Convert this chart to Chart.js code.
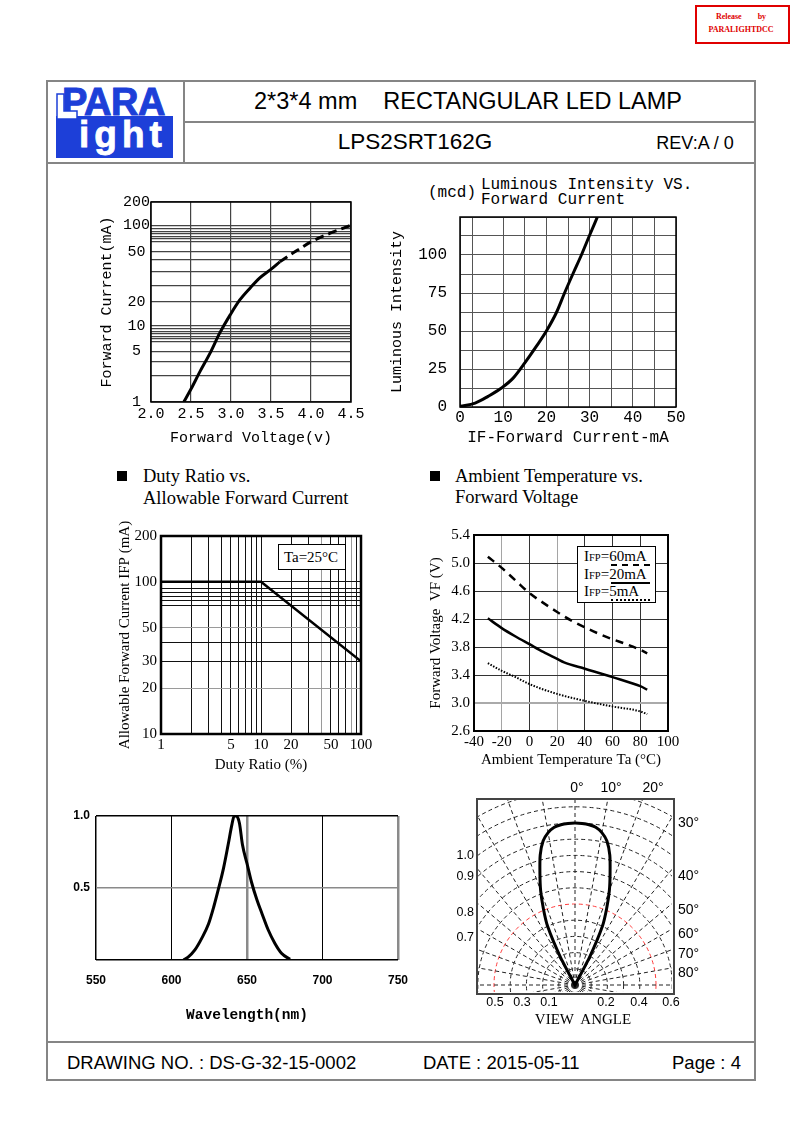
<!DOCTYPE html>
<html lang="en">
<head>
<meta charset="utf-8">
<title>LPS2SRT162G</title>
<script src="https://cdn.jsdelivr.net/npm/chart.js@4.4.1/dist/chart.umd.min.js"></script>
<style>
html,body{margin:0;padding:0;background:#fff;}
body{width:793px;height:1123px;position:relative;overflow:hidden;font-family:"Liberation Sans",Arial,sans-serif;color:#000;}
.t{position:absolute;white-space:pre;line-height:1;transform:translateY(-50%);}
.c{transform:translate(-50%,-50%);}
.r{transform:translate(-100%,-50%);}
.serif{font-family:"Liberation Serif","Times New Roman",serif;}
.mono{font-family:"Liberation Mono","Courier New",monospace;}
.ln{position:absolute;background:#858585;}
.sq{position:absolute;width:10px;height:10px;background:#000;}
canvas{position:absolute;display:block;}
</style>
</head>
<body>
<!-- release stamp -->
<div style="position:absolute;left:695px;top:5px;width:91px;height:35px;border:2px solid #e00000;"></div>
<div class="t serif c" style="left:741px;top:17px;font-size:8px;color:#e00000;font-weight:bold;">Release        by</div>
<div class="t serif c" style="left:741px;top:30px;font-size:8px;color:#e00000;font-weight:bold;">PARALIGHTDCC</div>

<!-- page frame -->
<div class="ln" style="left:46px;top:80px;width:710px;height:2px;"></div>
<div class="ln" style="left:46px;top:1079px;width:710px;height:2px;"></div>
<div class="ln" style="left:46px;top:80px;width:2px;height:1001px;"></div>
<div class="ln" style="left:754px;top:80px;width:2px;height:1001px;"></div>
<div class="ln" style="left:183px;top:80px;width:2px;height:84px;"></div>
<div class="ln" style="left:183px;top:121px;width:573px;height:2px;"></div>
<div class="ln" style="left:46px;top:162px;width:710px;height:2px;"></div>
<div class="ln" style="left:46px;top:1041px;width:710px;height:2px;"></div>

<!-- logo -->
<div style="position:absolute;left:56px;top:116px;width:117px;height:42px;background:#1d3fd8;"></div>
<div style="position:absolute;left:62px;top:83px;font-size:38px;line-height:1;font-weight:bold;color:#1d3fd8;letter-spacing:-0.5px;-webkit-text-stroke:1px #1d3fd8;">PARA</div>
<svg style="position:absolute;left:0;top:0;" width="200" height="170"><polygon points="57,94 64,94 64,111 77,111 77,119 57,119" fill="#fff" stroke="#1d3fd8" stroke-width="1.5"/></svg>
<div style="position:absolute;left:79px;top:116px;font-size:37px;line-height:1;font-weight:bold;color:#fff;letter-spacing:5px;-webkit-text-stroke:0.8px #fff;">ight</div>

<!-- header texts -->
<div class="t c" style="left:468px;top:102px;font-size:23.5px;">2*3*4 mm    RECTANGULAR LED LAMP</div>
<div class="t c" style="left:415px;top:142px;font-size:22.5px;">LPS2SRT162G</div>
<div class="t c" style="left:695px;top:143px;font-size:18px;">REV:A / 0</div>

<!-- footer texts -->
<div class="t" style="left:67px;top:1063px;font-size:18.5px;">DRAWING NO. : DS-G-32-15-0002</div>
<div class="t" style="left:423px;top:1063px;font-size:18.5px;">DATE : 2015-05-11</div>
<div class="t" style="left:672px;top:1063px;font-size:18.5px;">Page : 4</div>

<!-- chart 2 heading -->
<div class="t mono" style="left:428px;top:193px;font-size:16px;">(mcd)</div>
<div class="t mono" style="left:481px;top:185px;font-size:16px;">Luminous Intensity VS.</div>
<div class="t mono" style="left:481px;top:200px;font-size:16px;">Forward Current</div>

<!-- section headings -->
<div class="sq" style="left:117px;top:471px;"></div>
<div class="t serif" style="left:143px;top:476px;font-size:18.5px;">Duty Ratio vs.</div>
<div class="t serif" style="left:143px;top:498px;font-size:18.5px;">Allowable Forward Current</div>
<div class="sq" style="left:430px;top:471px;"></div>
<div class="t serif" style="left:455px;top:476px;font-size:18.5px;">Ambient Temperature vs.</div>
<div class="t serif" style="left:455px;top:497px;font-size:18.5px;">Forward Voltage</div>

<canvas id="fv"></canvas>
<canvas id="liv"></canvas>
<canvas id="duty"></canvas>
<canvas id="temp"></canvas>
<canvas id="spec"></canvas>

<!-- Ta box (chart 3) -->
<div style="position:absolute;left:278px;top:544px;width:66px;height:24px;border:1px solid #000;background:#fff;"></div>
<div class="t serif c" style="left:311px;top:557px;font-size:15px;">Ta=25°C</div>

<!-- legend box (chart 4) -->
<div style="position:absolute;left:577px;top:546px;width:77px;height:55px;border:1px solid #000;background:#fff;"></div>
<div class="t serif" style="left:584px;top:556px;font-size:15px;">I<span style="font-size:10.5px;">FP</span>=60mA</div>
<div style="position:absolute;left:611px;top:564px;width:39px;height:0;border-top:2px dashed #000;"></div>
<div class="t serif" style="left:584px;top:574px;font-size:15px;">I<span style="font-size:10.5px;">FP</span>=20mA</div>
<div style="position:absolute;left:611px;top:582px;width:39px;height:2px;background:#000;"></div>
<div class="t serif" style="left:584px;top:591px;font-size:15px;">I<span style="font-size:10.5px;">FP</span>=5mA</div>
<div style="position:absolute;left:611px;top:599px;width:39px;height:0;border-top:2px dotted #000;"></div>

<!-- polar chart -->
<div style="position:absolute;left:477px;top:799px;width:195px;height:193px;overflow:hidden;">
  <canvas id="polar" style="left:-122px;top:-34px;"></canvas>
</div>
<div style="position:absolute;left:476px;top:798px;width:195px;height:193px;border:2px solid #444;"></div>
<div class="t c" style="left:577px;top:787px;font-size:14px;">0°</div>
<div class="t c" style="left:611px;top:787px;font-size:14px;">10°</div>
<div class="t c" style="left:653px;top:787px;font-size:14px;">20°</div>
<div class="t" style="left:678px;top:822px;font-size:14px;">30°</div>
<div class="t" style="left:678px;top:875px;font-size:14px;">40°</div>
<div class="t" style="left:678px;top:909px;font-size:14px;">50°</div>
<div class="t" style="left:678px;top:933px;font-size:14px;">60°</div>
<div class="t" style="left:678px;top:953px;font-size:14px;">70°</div>
<div class="t" style="left:678px;top:972px;font-size:14px;">80°</div>
<div class="t r" style="left:474px;top:855px;font-size:12.5px;">1.0</div>
<div class="t r" style="left:474px;top:876px;font-size:12.5px;">0.9</div>
<div class="t r" style="left:474px;top:912px;font-size:12.5px;">0.8</div>
<div class="t r" style="left:474px;top:937px;font-size:12.5px;">0.7</div>
<div class="t c" style="left:495px;top:1002px;font-size:12.5px;">0.5</div>
<div class="t c" style="left:522px;top:1002px;font-size:12.5px;">0.3</div>
<div class="t c" style="left:549px;top:1002px;font-size:12.5px;">0.1</div>
<div class="t c" style="left:606px;top:1002px;font-size:12.5px;">0.2</div>
<div class="t c" style="left:639px;top:1002px;font-size:12.5px;">0.4</div>
<div class="t c" style="left:671px;top:1002px;font-size:12.5px;">0.6</div>
<div class="t serif c" style="left:583px;top:1019px;font-size:15px;">VIEW  ANGLE</div>

<script>
// ================= DATA =================
// Chart 1: Forward current vs forward voltage
const fvVoltSolid = [2.41, 2.50, 2.61, 2.74, 2.86, 2.99, 3.11, 3.24, 3.36, 3.49, 3.61];
const fvCurrSolid = [1, 1.51, 2.61, 4.78, 8.24, 13.7, 20.7, 25.8, 31.0, 35.9, 41.6];
const fvVoltDash = [3.61, 3.74, 3.86, 4.00, 4.24, 4.50];
const fvCurrDash = [41.6, 47.3, 54.1, 64.9, 81.2, 100];
const fvVoltTicks = [2.0, 2.5, 3.0, 3.5, 4.0, 4.5];
const fvCurrTickLabels = [1, 5, 10, 20, 50, 100, 200];
const fvCurrGridValues = [1, 2.3, 3.6, 5, 6.5, 7, 7.5, 8, 8.5, 9.2, 10, 20, 27, 35, 43, 50, 65, 70, 75, 80, 85, 92, 100, 200];

// Chart 2: Luminous intensity vs forward current
const livCurrent = [0, 3.5, 6.5, 9.6, 12.3, 15, 17.7, 20, 22.3, 24.2, 26.2, 28.1, 30, 31.8];
const livIntensity = [0.4, 2.6, 7, 12.5, 19, 29, 40, 50, 62, 75, 88, 100, 113, 125];
const livCurrentGrid = [0, 3, 10, 15, 20, 25, 30, 35, 40, 45, 50];
const livCurrentTickLabels = [0, 10, 20, 30, 40, 50];
const livIntensityGrid = [0, 12.5, 25, 37.5, 50, 62.5, 75, 87.5, 100, 112.5, 125];
const livIntensityTickLabels = [0, 25, 50, 75, 100];

// Chart 3: Duty ratio vs allowable forward current
const dutyRatio = [1, 10, 100];
const dutyCurrent = [100, 100, 30];
const dutyRatioGrid = [1, 2, 3, 4, 5, 6, 7, 8, 9, 10, 20, 30, 40, 50, 60, 70, 80, 90, 100];
const dutyRatioTickLabels = [1, 5, 10, 20, 50, 100];
const dutyCurrentGrid = [10, 20, 30, 40, 50, 70, 75, 80, 85, 90, 100, 200];
const dutyCurrentTickLabels = [10, 20, 30, 50, 100, 200];

// Chart 4: Ambient temperature vs forward voltage
const tempC60 = [-30, -20, -10, 0, 10, 20, 30, 40, 50, 60, 70, 80, 85];
const vf60 = [5.09, 4.93, 4.75, 4.57, 4.43, 4.30, 4.18, 4.08, 3.99, 3.91, 3.84, 3.76, 3.71];
const tempC20 = [-30, -20, -10, 0, 10, 20, 25, 40, 60, 80, 85];
const vf20 = [4.21, 4.07, 3.95, 3.84, 3.73, 3.63, 3.58, 3.49, 3.37, 3.24, 3.19];
const tempC5 = [-30, -20, -10, 0, 20, 40, 60, 80, 85];
const vf5 = [3.57, 3.46, 3.37, 3.27, 3.13, 3.03, 2.95, 2.88, 2.84];
const tempTicks = [-40, -20, 0, 20, 40, 60, 80, 100];
const vfTicks = [2.6, 3.0, 3.4, 3.8, 4.2, 4.6, 5.0, 5.4];

// Chart 5: Spectrum
const wavelengthNm = [608, 611, 615.5, 620, 624.5, 628, 631, 634.5, 637.5, 640, 641.5, 643, 645, 647, 650, 653, 656.5, 660, 664, 668.5, 673, 678.5];
const specIntensity = [0, 0.02, 0.07, 0.15, 0.25, 0.37, 0.49, 0.64, 0.8, 0.94, 1.0, 1.0, 0.95, 0.8, 0.67, 0.54, 0.42, 0.32, 0.21, 0.115, 0.045, 0.005];
const wavelengthTicks = [550, 600, 650, 700, 750];
const specTicks = [0, 0.5, 1.0];
const specTickLabels = [0.5, 1.0];

// Chart 6: Radiation pattern (view angle)
const viewAngleDeg = [0, 2.5, 5, 7.5, 10, 12.5, 15, 17.5, 20, 22.5, 25, 27.5, 30];
const viewRelIntensity = [1.0, 0.998, 0.993, 0.982, 0.955, 0.91, 0.83, 0.72, 0.62, 0.51, 0.40, 0.20, 0];
const polarRingValues = [0, 0.1, 0.2, 0.3, 0.4, 0.5, 0.6, 0.7, 0.8, 0.9, 1.0, 1.1, 1.2, 1.3];

// ================= LAYOUT =================
const MONO = "'Liberation Mono','Courier New',monospace";
const SERIF = "'Liberation Serif','Times New Roman',serif";
const SANS = "'Liberation Sans',Arial,sans-serif";
const fvCurrAxisAnchors = [[1, 0], [5, 0.2524], [10, 0.3816], [20, 0.5008], [50, 0.7511], [100, 0.8838], [200, 1]];

Chart.defaults.animation = false;
Chart.defaults.responsive = false;
Chart.defaults.devicePixelRatio = 1;
Chart.defaults.events = [];
Chart.defaults.color = '#000';
Chart.defaults.plugins.legend.display = false;
Chart.defaults.plugins.tooltip.enabled = false;

class PiecewiseLogScale extends Chart.LogarithmicScale {
  getPixelForValue(value) {
    const a = fvCurrAxisAnchors;
    if (value === null || value === undefined || isNaN(value) || value <= 0) return NaN;
    const lv = Math.log10(value);
    let i = 0;
    while (i < a.length - 2 && lv > Math.log10(a[i + 1][0])) i++;
    const l0 = Math.log10(a[i][0]), l1 = Math.log10(a[i + 1][0]);
    const f = a[i][1] + (lv - l0) / (l1 - l0) * (a[i + 1][1] - a[i][1]);
    return this.getPixelForDecimal(f);
  }
}
PiecewiseLogScale.id = 'piecewiseLog';
PiecewiseLogScale.defaults = Chart.LogarithmicScale.defaults;
Chart.register(PiecewiseLogScale);

const framePlugin = {
  id: 'frame',
  beforeDatasetsDraw(chart, args, o) {
    if (!o || !o.width) return;
    const {ctx, chartArea: a} = chart;
    ctx.save();
    ctx.strokeStyle = o.color || '#000';
    ctx.lineWidth = o.width;
    ctx.strokeRect(a.left, a.top, a.right - a.left, a.bottom - a.top);
    ctx.restore();
  }
};
Chart.register(framePlugin);

function place(id, c) {
  const cv = document.getElementById(id);
  cv.width = c.w; cv.height = c.h;
  cv.style.width = c.w + 'px'; cv.style.height = c.h + 'px';
  if (c.x !== undefined) { cv.style.left = c.x + 'px'; cv.style.top = c.y + 'px'; }
  return cv;
}
function layoutPad(c, p) { return {left: 0, top: p.top - c.y, right: c.x + c.w - p.right, bottom: 0}; }
function fitY(c, p) { return s => { s.width = p.left - c.x; s.paddingTop = 0; s.paddingBottom = 0; }; }
function fitX(c, p) { return s => { s.height = c.y + c.h - p.bottom; s.paddingLeft = 0; s.paddingRight = 0; }; }
function setTicks(vals) { return s => { s.ticks = vals.map(v => ({value: v})); }; }
function pts(xs, ys) { return xs.map((x, i) => ({x: x, y: ys[i]})); }
function labelIf(list, fmt) { return v => list.some(l => Math.abs(l - v) < 1e-9) ? (fmt ? fmt(v) : String(v)) : ''; }

// ---------- Chart 1 ----------
const c1 = {x: 95, y: 195, w: 275, h: 255}, p1 = {left: 151, top: 202, right: 351, bottom: 402};
new Chart(place('fv', c1), {
  type: 'line',
  data: {datasets: [
    {data: pts(fvVoltSolid, fvCurrSolid), borderColor: '#000', borderWidth: 3, pointRadius: 0, cubicInterpolationMode: 'monotone'},
    {data: pts(fvVoltDash, fvCurrDash), borderColor: '#000', borderWidth: 3, borderDash: [9, 5], pointRadius: 0, cubicInterpolationMode: 'monotone'}
  ]},
  options: {
    layout: {padding: layoutPad(c1, p1)},
    plugins: {frame: {color: '#000', width: 1.5}},
    scales: {
      x: {type: 'linear', min: 2, max: 4.5, afterBuildTicks: setTicks(fvVoltTicks), afterFit: fitX(c1, p1),
        grid: {color: '#444', lineWidth: 1.2, drawTicks: false}, border: {display: false},
        ticks: {padding: 3, autoSkip: false, maxRotation: 0, font: {family: MONO, size: 15}, callback: v => v.toFixed(1)},
        title: {display: true, text: 'Forward Voltage(v)', font: {family: MONO, size: 15}, padding: {top: 0, bottom: 3}}},
      y: {type: 'piecewiseLog', min: 1, max: 200, afterBuildTicks: setTicks(fvCurrGridValues), afterFit: fitY(c1, p1),
        grid: {color: '#444', lineWidth: 1.2, drawTicks: false}, border: {display: false},
        ticks: {padding: 1, autoSkip: false, crossAlign: 'center', font: {family: MONO, size: 15}, callback: labelIf(fvCurrTickLabels)},
        title: {display: true, text: 'Forward Current(mA)', font: {family: MONO, size: 15}, padding: {top: 3, bottom: 0}}}
    }
  }
});

// ---------- Chart 2 ----------
const c2 = {x: 385, y: 208, w: 310, h: 242}, p2 = {left: 460, top: 217, right: 676, bottom: 407};
new Chart(place('liv', c2), {
  type: 'line',
  data: {datasets: [
    {data: pts(livCurrent, livIntensity), borderColor: '#000', borderWidth: 3, pointRadius: 0, cubicInterpolationMode: 'monotone'}
  ]},
  options: {
    layout: {padding: layoutPad(c2, p2)},
    plugins: {frame: {color: '#000', width: 1.5}},
    scales: {
      x: {type: 'linear', min: 0, max: 50, afterBuildTicks: setTicks(livCurrentGrid), afterFit: fitX(c2, p2),
        grid: {color: '#555', lineWidth: 1, drawTicks: false}, border: {display: false},
        ticks: {padding: 1, autoSkip: false, maxRotation: 0, font: {family: MONO, size: 16}, callback: labelIf(livCurrentTickLabels)},
        title: {display: true, text: 'IF-Forward Current-mA', font: {family: MONO, size: 16}, padding: {top: 0, bottom: 3}}},
      y: {type: 'linear', min: 0, max: 125, afterBuildTicks: setTicks(livIntensityGrid), afterFit: fitY(c2, p2),
        grid: {color: '#555', lineWidth: 1, drawTicks: false}, border: {display: false},
        ticks: {padding: 13, autoSkip: false, font: {family: MONO, size: 16}, callback: labelIf(livIntensityTickLabels)},
        title: {display: true, text: 'Luminous Intensity', font: {family: MONO, size: 15}, padding: {top: 3, bottom: 0}}}
    }
  }
});

// ---------- Chart 3 ----------
const c3 = {x: 110, y: 508, w: 270, h: 267}, p3 = {left: 161, top: 536, right: 361, bottom: 734};
new Chart(place('duty', c3), {
  type: 'line',
  data: {datasets: [
    {data: pts(dutyRatio, dutyCurrent), borderColor: '#000', borderWidth: 2.5, pointRadius: 0, tension: 0}
  ]},
  options: {
    layout: {padding: layoutPad(c3, p3)},
    plugins: {frame: {color: '#000', width: 2.5}},
    scales: {
      x: {type: 'logarithmic', min: 1, max: 100, afterBuildTicks: setTicks(dutyRatioGrid), afterFit: fitX(c3, p3),
        grid: {color: c => (c.tick && (c.tick.value === 40 || c.tick.value === 80)) ? '#9a9a9a' : '#111', lineWidth: 1, drawTicks: false}, border: {display: false},
        ticks: {padding: 2, autoSkip: false, maxRotation: 0, font: {family: SERIF, size: 15}, callback: labelIf(dutyRatioTickLabels)},
        title: {display: true, text: 'Duty Ratio (%)', font: {family: SERIF, size: 15}, padding: {top: 0, bottom: 1}}},
      y: {type: 'logarithmic', min: 10, max: 200, afterBuildTicks: setTicks(dutyCurrentGrid), afterFit: fitY(c3, p3),
        grid: {color: c => (c.tick && (c.tick.value === 20 || c.tick.value === 50)) ? '#9a9a9a' : '#111', lineWidth: 1, drawTicks: false}, border: {display: false},
        ticks: {padding: 4, autoSkip: false, font: {family: SERIF, size: 15}, callback: labelIf(dutyCurrentTickLabels)},
        title: {display: true, text: 'Allowable Forward Current IFP (mA)', font: {family: SERIF, size: 15}, padding: {top: 6, bottom: 0}}}
    }
  }
});

// ---------- Chart 4 ----------
const c4 = {x: 425, y: 520, w: 265, h: 255}, p4 = {left: 474, top: 535, right: 668, bottom: 731};
new Chart(place('temp', c4), {
  type: 'line',
  data: {datasets: [
    {label: 'IFP=60mA', data: pts(tempC60, vf60), borderColor: '#000', borderWidth: 2.5, borderDash: [8, 6], pointRadius: 0, cubicInterpolationMode: 'monotone'},
    {label: 'IFP=20mA', data: pts(tempC20, vf20), borderColor: '#000', borderWidth: 2.5, pointRadius: 0, cubicInterpolationMode: 'monotone'},
    {label: 'IFP=5mA', data: pts(tempC5, vf5), borderColor: '#000', borderWidth: 2, borderDash: [1.5, 1.5], pointRadius: 0, cubicInterpolationMode: 'monotone'}
  ]},
  options: {
    layout: {padding: layoutPad(c4, p4)},
    plugins: {frame: {color: '#000', width: 2}},
    scales: {
      x: {type: 'linear', min: -40, max: 100, afterBuildTicks: setTicks(tempTicks), afterFit: fitX(c4, p4),
        grid: {color: c => (c.tick && (c.tick.value === -20 || c.tick.value === 20)) ? '#a5a5a5' : '#333', lineWidth: 1, drawTicks: false}, border: {display: false},
        ticks: {padding: 2, autoSkip: false, maxRotation: 0, font: {family: SERIF, size: 15}},
        title: {display: true, text: 'Ambient Temperature Ta (°C)', font: {family: SERIF, size: 15}, padding: {top: 0, bottom: 6}}},
      y: {type: 'linear', min: 2.6, max: 5.4, afterBuildTicks: setTicks(vfTicks), afterFit: fitY(c4, p4),
        grid: {color: c => (c.tick && Math.abs(c.tick.value - 3.0) < 1e-9) ? '#aaa' : '#333', lineWidth: c => (c.tick && Math.abs(c.tick.value - 3.0) < 1e-9) ? 2 : 1, drawTicks: false}, border: {display: false},
        ticks: {padding: 4, autoSkip: false, font: {family: SERIF, size: 15}, callback: v => v.toFixed(1)},
        title: {display: true, text: 'Forward Voltage  VF (V)', font: {family: SERIF, size: 15}, padding: {top: 2, bottom: 0}}}
    }
  }
});

// ---------- Chart 5: spectrum ----------
const c5 = {x: 55, y: 805, w: 365, h: 225}, p5 = {left: 96, top: 816, right: 398, bottom: 960};
new Chart(place('spec', c5), {
  type: 'line',
  data: {datasets: [
    {data: pts(wavelengthNm, specIntensity), borderColor: '#000', borderWidth: 3, pointRadius: 0, cubicInterpolationMode: 'monotone'}
  ]},
  options: {
    layout: {padding: layoutPad(c5, p5)},
    scales: {
      x: {type: 'linear', min: 550, max: 750, afterBuildTicks: setTicks(wavelengthTicks), afterFit: fitX(c5, p5),
        grid: {color: c => (c.tick && (c.tick.value === 650 || c.tick.value === 750)) ? '#8a8a8a' : '#000',
               lineWidth: c => (c.tick && (c.tick.value === 650 || c.tick.value === 750)) ? 2.5 : (c.tick && c.tick.value === 550 ? 1.5 : 1), drawTicks: false},
        border: {display: false},
        ticks: {padding: 13, autoSkip: false, maxRotation: 0, font: {family: SANS, size: 12, weight: 'bold'}},
        title: {display: true, text: 'Wavelength(nm)', font: {family: MONO, size: 14.5, weight: 'bold'}, padding: {top: 0, bottom: 6}}},
      y: {type: 'linear', min: 0, max: 1, afterBuildTicks: setTicks(specTicks), afterFit: fitY(c5, p5),
        grid: {color: c => (c.tick && c.tick.value === 0.5) ? '#8a8a8a' : '#000', lineWidth: 1.5, drawTicks: false},
        border: {display: false},
        ticks: {padding: 6, autoSkip: false, font: {family: SANS, size: 12, weight: 'bold'}, callback: labelIf(specTickLabels, v => v.toFixed(1))}}
    }
  }
});

// ---------- Chart 6: radiation pattern ----------
const polarLabels = [];
const polarValues = [];
for (let a = 0; a < 360; a += 2.5) {
  polarLabels.push(a + '°');
  const d = Math.min(a, 360 - a);
  const k = viewAngleDeg.indexOf(d);
  polarValues.push(k >= 0 ? viewRelIntensity[k] : 0);
}
const POLAR_PX = 440, POLAR_UNIT = 162;
new Chart(place('polar', {w: POLAR_PX, h: POLAR_PX}), {
  type: 'radar',
  data: {labels: polarLabels, datasets: [
    {data: polarValues, borderColor: '#000', borderWidth: 3, pointRadius: 0, fill: false, tension: 0.2}
  ]},
  options: {
    layout: {padding: 0},
    scales: {
      r: {min: 0, max: (POLAR_PX / 2) / POLAR_UNIT, afterBuildTicks: setTicks(polarRingValues),
        ticks: {display: false},
        pointLabels: {display: false},
        grid: {circular: true, lineWidth: 1, color: c => (c.tick && Math.abs(c.tick.value - 0.5) < 1e-9) ? '#ff3b3b' : '#222'},
        border: {dash: [4, 3]},
        angleLines: {display: true, lineWidth: 1, borderDash: [4, 3], color: c => (c.index % 4 === 0) ? '#222' : 'rgba(0,0,0,0)'}
      }
    }
  }
});
</script>
</body>
</html>
